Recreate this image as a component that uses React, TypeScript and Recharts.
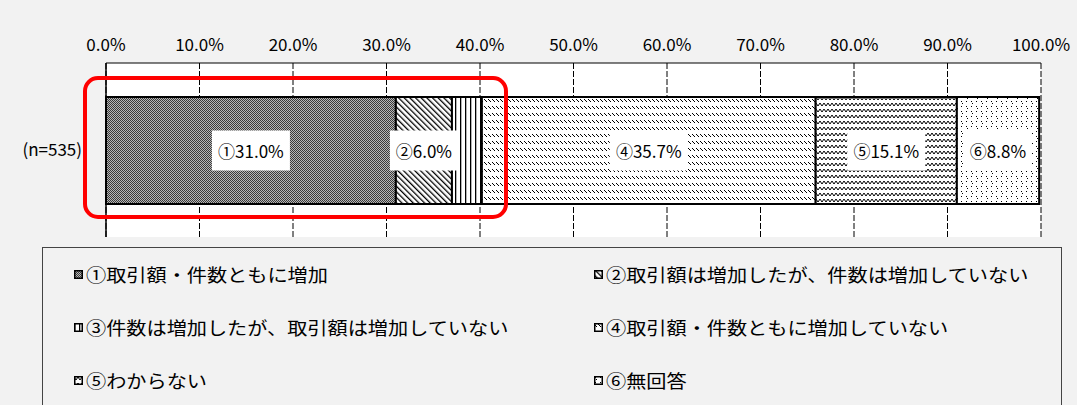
import { BarChart, Bar, XAxis, YAxis, CartesianGrid, LabelList } from "recharts";

const categories = ["(n=535)"];
const seriesNames = [
  "①取引額・件数ともに増加",
  "②取引額は増加したが、件数は増加していない",
  "③件数は増加したが、取引額は増加していない",
  "④取引額・件数ともに増加していない",
  "⑤わからない",
  "⑥無回答",
];
const seriesValues = [31.0, 6.0, 3.2, 35.7, 15.1, 8.8];
const showLabel = [true, true, false, true, true, true];
const xTicks = [0, 10, 20, 30, 40, 50, 60, 70, 80, 90, 100];

const FONT = "'Noto Sans CJK JP', 'Noto Sans', sans-serif";

const data = categories.map((name) => {
  const row: Record<string, any> = { name };
  seriesValues.forEach((v, i) => (row["s" + i] = v));
  return row;
});

// hatch patterns, shared by bars and legend icons
function Patterns() {
  return (
    <svg width={0} height={0} style={{ position: "absolute" }}>
      <defs>
        <pattern id="p0" width={2} height={2} patternUnits="userSpaceOnUse">
          <rect width={2} height={2} fill="#b8b8b8" />
          <rect x={0} y={0} width={1} height={1} fill="#3a3a3a" />
          <rect x={1} y={1} width={1} height={1} fill="#3a3a3a" />
        </pattern>
        <pattern id="p1" width={4} height={4} patternUnits="userSpaceOnUse" patternTransform="rotate(-45)">
          <rect width={4} height={4} fill="#fff" />
          <rect x={0} y={0} width={1.3} height={4} fill="#000" />
        </pattern>
        <pattern id="p2" width={5} height={5} patternUnits="userSpaceOnUse">
          <rect width={5} height={5} fill="#fff" />
          <rect x={0} y={0} width={1.3} height={5} fill="#000" />
        </pattern>
        <pattern id="p3" width={4} height={7} patternUnits="userSpaceOnUse">
          <rect width={4} height={7} fill="#fff" />
          <line x1={0} y1={1} x2={3} y2={4} stroke="#000" strokeWidth={1} />
        </pattern>
        <pattern id="p4" width={8} height={6} patternUnits="userSpaceOnUse">
          <rect width={8} height={6} fill="#fff" />
          <polyline points="0,1 2,4 4,1 6,4 8,1" fill="none" stroke="#000" strokeWidth={1} />
        </pattern>
        <pattern id="p5" width={10} height={10} patternUnits="userSpaceOnUse">
          <rect width={10} height={10} fill="#fff" />
          <rect x={1} y={1} width={1} height={1} fill="#000" />
          <rect x={2} y={3} width={1} height={1} fill="#000" />
          <rect x={6} y={6} width={1} height={1} fill="#000" />
          <rect x={7} y={8} width={1} height={1} fill="#000" />
          <rect x={6} y={1} width={1} height={1} fill="#000" />
          <rect x={1} y={6} width={1} height={1} fill="#000" />
        </pattern>
      </defs>
    </svg>
  );
}

function makeLabel(i: number) {
  return (props: any) => {
    const { x, y, width, height, value } = props;
    if (!showLabel[i]) return null;
    const text = seriesNames[i].charAt(0) + Number(value).toFixed(1) + "%";
    const cx = x + width / 2;
    const cy = y + height / 2;
    const w = text.length * 10 + 18;
    return (
      <g>
        <rect x={cx - w / 2} y={cy - 20} width={w} height={40} fill="#fff" />
        <text x={cx} y={cy} textAnchor="middle" dominantBaseline="central" fontSize={17} fontFamily={FONT} fill="#000">
          {text}
        </text>
      </g>
    );
  };
}

export default function App() {
  return (
    <div style={{ position: "absolute", left: 0, top: 0, width: 1077, height: 405, background: "#f2f2f2", overflow: "hidden", fontFamily: FONT }}>
      <Patterns />
      <BarChart
        width={1077}
        height={250}
        data={data}
        layout="vertical"
        margin={{ top: 22, right: 36, bottom: 13, left: 0 }}
        barSize={107}
      >
        <CartesianGrid horizontal={false} vertical strokeDasharray="6 2" stroke="#000" fill="#fff" />
        <XAxis
          type="number"
          orientation="top"
          domain={[0, 100]}
          ticks={xTicks}
          tickFormatter={(v: number) => v.toFixed(1) + "%"}
          axisLine={{ stroke: "#000" }}
          tickLine={false}
          tickSize={0}
          tick={{ fontSize: 17, fill: "#000", fontFamily: FONT }}
          tickMargin={12}
          interval={0}
          height={41}
        />
        <YAxis
          type="category"
          dataKey="name"
          width={106}
          axisLine={{ stroke: "#000", strokeWidth: 1.5 }}
          tickLine={false}
          tickSize={0}
          tick={{ fontSize: 17, fill: "#000", fontFamily: FONT }}
          tickMargin={24}
        />
        {seriesValues.map((_, i) => (
          <Bar
            key={i}
            dataKey={"s" + i}
            name={seriesNames[i]}
            stackId="a"
            fill={`url(#p${i})`}
            stroke="#000"
            strokeWidth={2}
            isAnimationActive={false}
          >
            <LabelList dataKey={"s" + i} content={makeLabel(i)} />
          </Bar>
        ))}
      </BarChart>

      {/* red highlight around ①〜③ */}
      <div
        style={{
          position: "absolute",
          left: 83,
          top: 76,
          width: 417,
          height: 135,
          border: "4px solid #f00",
          borderRadius: 15,
        }}
      />

      {/* legend */}
      <div
        style={{
          position: "absolute",
          left: 42,
          top: 247,
          width: 1020,
          height: 170,
          border: "1px solid #444",
          boxSizing: "border-box",
        }}
      >
        {seriesNames.map((name, i) => (
          <div
            key={i}
            style={{
              position: "absolute",
              left: i % 2 === 0 ? 31 : 551,
              top: 13 + Math.floor(i / 2) * 53,
              height: 26,
              display: "flex",
              alignItems: "center",
              color: "#000",
              whiteSpace: "nowrap",
            }}
          >
            <svg width={9} height={9} style={{ marginRight: 3 }}>
              <rect x={0.75} y={0.75} width={7.5} height={7.5} fill={`url(#p${i})`} stroke="#000" strokeWidth={1.5} />
            </svg>
            <span style={{ fontSize: 18, display: "inline-block", transform: "scaleX(1.12)", transformOrigin: "left center" }}>
              {name}
            </span>
          </div>
        ))}
      </div>
    </div>
  );
}
